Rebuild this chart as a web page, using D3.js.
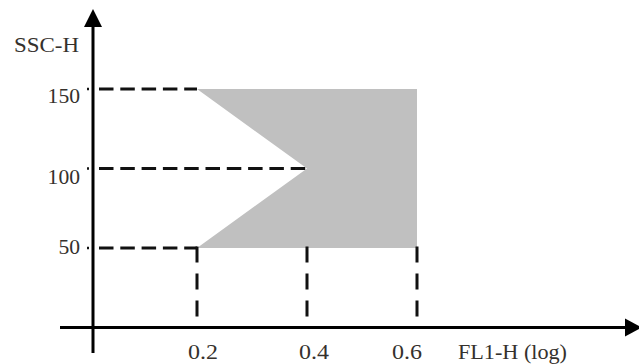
<!DOCTYPE html>
<html>
<head>
<meta charset="utf-8">
<script src="https://cdn.jsdelivr.net/npm/d3@7"></script>
<style>
  body { margin: 0; background: #fff; }
  text { font-family: "Liberation Serif", "Times New Roman", serif; font-size: 22px; fill: #35312d; }
</style>
</head>
<body>
<svg id="canvas" width="639" height="364"></svg>
<script>
// data
let xTicks = [0.2, 0.4, 0.6]
let yTicks = [50, 100, 150]
let gateX = [0.2, 0.6, 0.6, 0.2, 0.4]
let gateY = [150, 150, 50, 50, 100]
let xTitle = 'FL1-H (log)'
let yTitle = 'SSC-H'

let svg = d3.select('#canvas')

let x = d3.scaleLinear().domain([0.2, 0.6]).range([197, 417])
let y = d3.scaleLinear().domain([0, 150]).range([327.5, 89])

let axisX = 93, axisY = y(0)

// gated region
let pts = gateX.map((d, i) => [x(d), y(gateY[i])])
svg.append('path')
    .attr('d', d3.line()(pts) + 'Z')
    .attr('fill', '#c0c0c0')

// horizontal dashed guides, axis -> leftmost gate point at that level
let gateBottom = d3.min(gateY)
yTicks.forEach(t => {
    let xs = gateX.filter((d, i) => gateY[i] === t)
    svg.append('line')
        .attr('x1', axisX + 6).attr('x2', x(d3.min(xs)))
        .attr('y1', y(t)).attr('y2', y(t))
        .attr('stroke', '#111').attr('stroke-width', 3)
        .attr('stroke-dasharray', '14.5,6.8')
    svg.append('line')
        .attr('x1', x(0)).attr('x2', x(0) + 2)
        .attr('y1', y(t)).attr('y2', y(t))
        .attr('stroke', '#111').attr('stroke-width', 2.5)
})

// vertical dashed guides, gate bottom -> x axis
xTicks.forEach(t => {
    svg.append('line')
        .attr('x1', x(t)).attr('x2', x(t))
        .attr('y1', y(gateBottom) - 1.5).attr('y2', axisY - 10)
        .attr('stroke', '#111').attr('stroke-width', 3)
        .attr('stroke-dasharray', '16,11')
})

// axes with arrow heads
svg.append('line')
    .attr('x1', 60).attr('x2', 628).attr('y1', axisY).attr('y2', axisY)
    .attr('stroke', '#000').attr('stroke-width', 3)
svg.append('path')
    .attr('d', `M625,${axisY - 9}L642,${axisY}L625,${axisY + 9}Z`)
    .attr('fill', '#000')
svg.append('line')
    .attr('x1', axisX).attr('x2', axisX).attr('y1', 353).attr('y2', 24)
    .attr('stroke', '#000').attr('stroke-width', 3)
svg.append('path')
    .attr('d', `M${axisX - 9},27L${axisX},9L${axisX + 9},27Z`)
    .attr('fill', '#000')

// tick labels (source font is wider than Liberation Serif, so stretch a bit)
let yShift = [6, 15, 14]
svg.selectAll('.ylab').data(yTicks).enter().append('text')
    .attr('class', 'ylab')
    .attr('x', 80)
    .attr('y', (d, i) => y(d) + yShift[i])
    .attr('text-anchor', 'end')
    .attr('textLength', d => String(d).length * 10.8)
    .attr('lengthAdjust', 'spacingAndGlyphs')
    .text(d => d)

let xShift = [6, 7, -10]
svg.selectAll('.xlab').data(xTicks).enter().append('text')
    .attr('class', 'xlab')
    .attr('x', (d, i) => x(d) + xShift[i])
    .attr('y', 359)
    .attr('text-anchor', 'middle')
    .attr('textLength', 30)
    .attr('lengthAdjust', 'spacingAndGlyphs')
    .text(d => d3.format('.1f')(d))

svg.append('text').attr('x', 458).attr('y', 359)
    .attr('textLength', 109).attr('lengthAdjust', 'spacingAndGlyphs')
    .text(xTitle)
svg.append('text').attr('x', 14).attr('y', 52).style('font-size', '21px')
    .attr('textLength', 65).attr('lengthAdjust', 'spacingAndGlyphs')
    .text(yTitle)
</script>
</body>
</html>
